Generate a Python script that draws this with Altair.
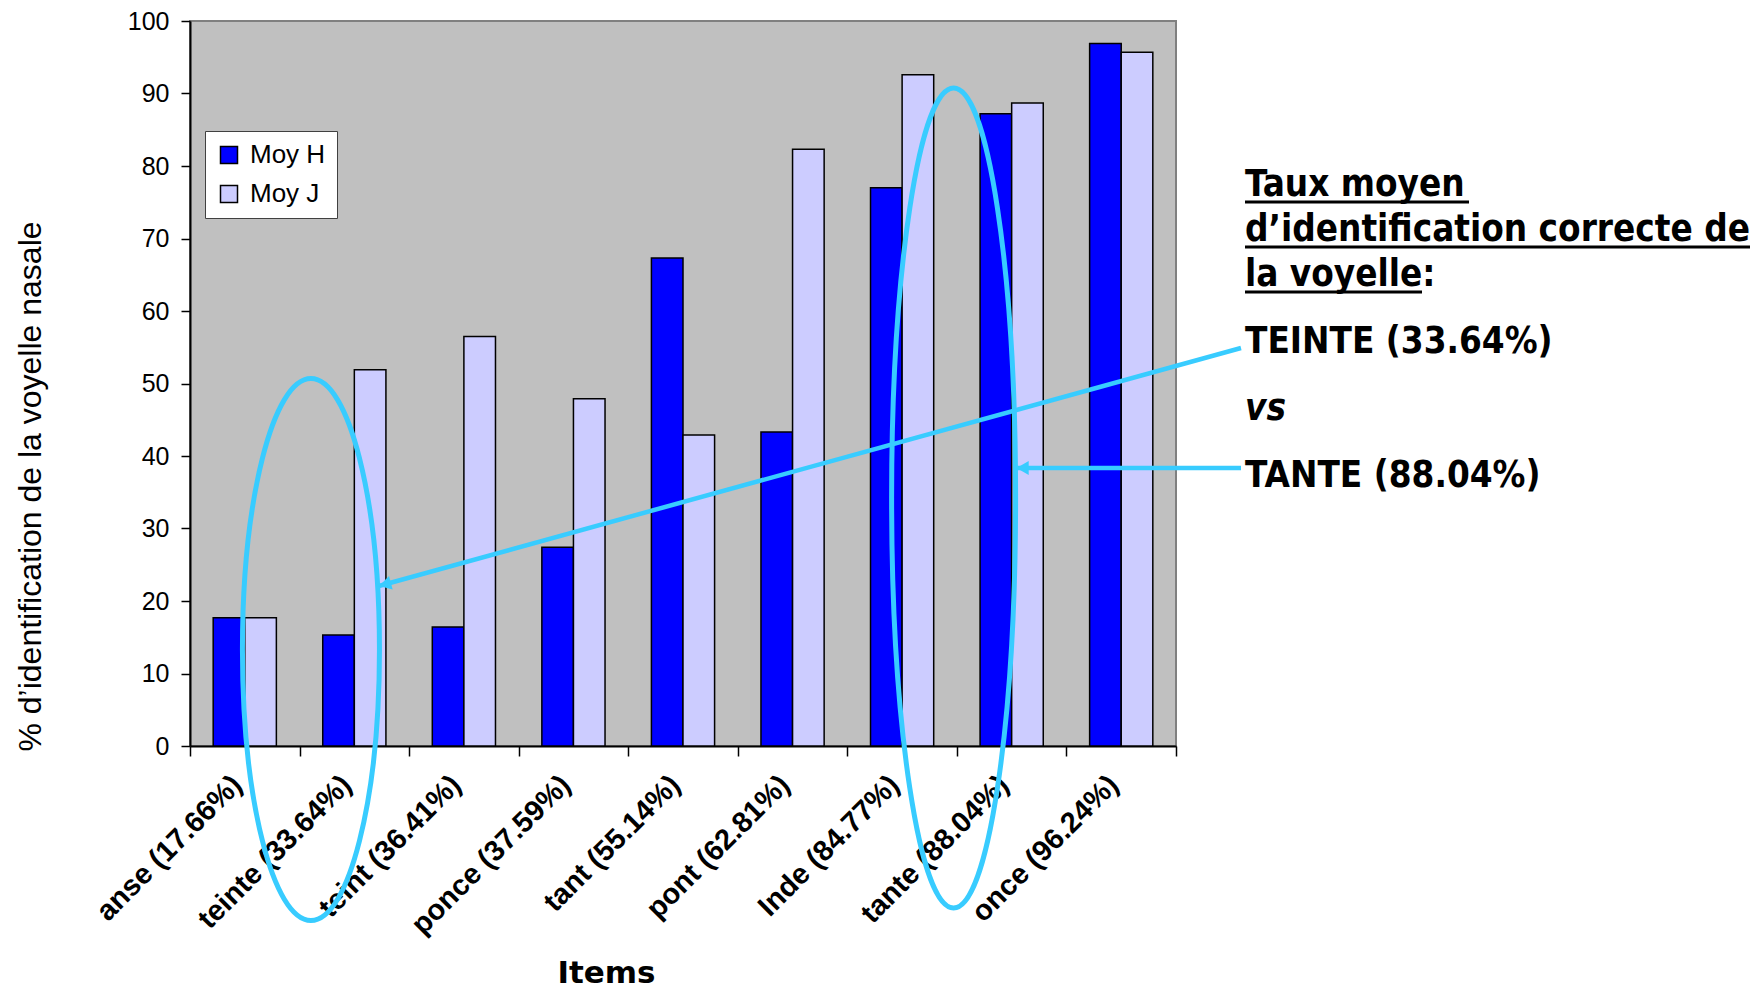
import altair as alt
import pandas as pd

# ---- data ----
items = ["anse (17.66%)", "teinte (33.64%)", "teint (36.41%)", "ponce (37.59%)",
         "tant (55.14%)", "pont (62.81%)", "Inde (84.77%)", "tante (88.04%)",
         "once (96.24%)"]
moy_h = [17.7, 15.3, 16.4, 27.4, 67.3, 43.3, 77.0, 87.2, 96.9]
moy_j = [17.7, 51.9, 56.5, 47.9, 42.9, 82.3, 92.6, 88.7, 95.7]
series = ["Moy H", "Moy J"]
series_colors = ["#0000FF", "#CCCCFF"]
y_ticks = list(range(0, 101, 10))

note_lines = ["Taux moyen", "d\u2019identification correcte de", "la voyelle:",
              "TEINTE (33.64%)", "vs", "TANTE (88.04%)"]

rows = []
for i, it in enumerate(items):
    rows.append({"item": it, "series": series[0], "value": moy_h[i]})
    rows.append({"item": it, "series": series[1], "value": moy_j[i]})
df = pd.DataFrame(rows)

W, H = 986, 725
CYAN = "#38CCFF"
ARIAL = "Liberation Sans"
TAHOMA = "DejaVu Sans Condensed, DejaVu Sans"

bars = alt.Chart(df).mark_bar(stroke="black", strokeWidth=1.5).encode(
    x=alt.X("item:N",
            scale=alt.Scale(domain=items, paddingInner=0, paddingOuter=0),
            axis=alt.Axis(title="Items", labelAngle=315, labelAlign="right",
                          labelBaseline="top", labelFont=ARIAL, labelFontSize=29,
                          labelFontWeight="bold", labelColor="black",
                          labelPadding=14, labelOffset=-18, labelLimit=0,
                          labelOverlap=False,
                          tickBand="extent", tickSize=10, tickColor="black",
                          tickWidth=1.5, domainColor="black", domainWidth=2,
                          titleFont="DejaVu Sans", titleFontSize=31, titleFontWeight="bold",
                          titleColor="black", titleX=416, titleY=236,
                          titleAlign="center", titleBaseline="alphabetic")),
    xOffset=alt.XOffset("series:N",
                        scale=alt.Scale(domain=series, paddingInner=0, paddingOuter=0.734)),
    y=alt.Y("value:Q", scale=alt.Scale(domain=[0, 100], nice=False),
            axis=alt.Axis(values=y_ticks, title="% d\u2019identification de la voyelle nasale",
                          labelFont=ARIAL, labelFontSize=25, labelColor="black",
                          labelPadding=12, tickSize=9, tickColor="black", tickWidth=1.5,
                          domainColor="black", domainWidth=2, grid=False,
                          titleFont=ARIAL, titleFontSize=32, titleFontWeight="normal",
                          titleColor="black", titleAngle=270, titleX=-160, titleY=465,
                          titleAlign="center", titleBaseline="middle")),
    color=alt.Color("series:N",
                    scale=alt.Scale(domain=series, range=series_colors),
                    legend=alt.Legend(title=None, orient="none", legendX=15, legendY=110,
                                      fillColor="white", strokeColor="#404040",
                                      padding=11, symbolType="square", symbolSize=289,
                                      symbolStrokeColor="black", symbolStrokeWidth=1.5,
                                      labelFont=ARIAL, labelFontSize=26, labelColor="black",
                                      rowPadding=13, labelOffset=8, symbolOpacity=1)),
)


def ellipse_path(a):
    k = 0.5523
    return (f"M 0 -1 C {k*a:.4f} -1 {a:.4f} {-k:.4f} {a:.4f} 0 "
            f"C {a:.4f} {k:.4f} {k*a:.4f} 1 0 1 "
            f"C {-k*a:.4f} 1 {-a:.4f} {k:.4f} {-a:.4f} 0 "
            f"C {-a:.4f} {-k:.4f} {-k*a:.4f} -1 0 -1 Z")


def anchor(item, value):
    return pd.DataFrame({"item": [item], "value": [value]})


ell1 = alt.Chart(anchor(items[1], 13.3)).mark_point(
    shape=ellipse_path(0.2528), filled=False, stroke=CYAN, strokeWidth=5,
    opacity=1, size=542 ** 2).encode(
    x=alt.X("item:N", bandPosition=0.104), y="value:Q")

ell2 = alt.Chart(anchor(items[6], 34.2)).mark_point(
    shape=ellipse_path(0.1512), filled=False, stroke=CYAN, strokeWidth=5,
    opacity=1, size=820 ** 2).encode(
    x=alt.X("item:N", bandPosition=0.97), y="value:Q")

arrow1 = alt.Chart(anchor(items[1], 22.07)).mark_rule(
    stroke=CYAN, strokeWidth=4.5).encode(
    x=alt.X("item:N", bandPosition=0.724), y="value:Q",
    x2=alt.value(1051), y2=alt.value(327))

head1 = alt.Chart(anchor(items[1], 22.29)).mark_point(
    shape="triangle-left", filled=True, color=CYAN, opacity=1, size=196,
    angle=345).encode(x=alt.X("item:N", bandPosition=0.78), y="value:Q")

arrow2 = alt.Chart(anchor(items[7], 38.34)).mark_rule(
    stroke=CYAN, strokeWidth=4.5).encode(
    x=alt.X("item:N", bandPosition=0.536), y="value:Q",
    x2=alt.value(1051), y2=alt.value(447))

head2 = alt.Chart(anchor(items[7], 38.34)).mark_point(
    shape="triangle-left", filled=True, color=CYAN, opacity=1, size=196).encode(
    x=alt.X("item:N", bandPosition=0.60), y="value:Q")

text_layers = []
text_x = 1055
text_y = [175, 220, 265, 332, 399, 466]
for i, line in enumerate(note_lines):
    style = "italic" if line == "vs" else "normal"
    t = alt.Chart(pd.DataFrame({"t": [line]})).mark_text(
        align="left", baseline="alphabetic", font=TAHOMA, fontSize=36.5,
        fontWeight="bold", fontStyle=style, color="black").encode(
        x=alt.value(text_x), y=alt.value(text_y[i]), text="t:N")
    text_layers.append(t)

underline_len = [224, 505, 177]
for i, ln in enumerate(underline_len):
    u = alt.Chart(pd.DataFrame({"t": [note_lines[i]]})).mark_rule(
        color="black", strokeWidth=3).encode(
        x=alt.value(text_x), x2=alt.value(text_x + ln), y=alt.value(text_y[i] + 6))
    text_layers.append(u)

chart = alt.layer(bars, ell1, ell2, arrow1, head1, arrow2, head2, *text_layers).properties(
    width=W, height=H,
    autosize=alt.AutoSizeParams(type="none"),
    padding={"left": 182, "top": 13, "right": 576, "bottom": 242},
).configure_view(fill="#C0C0C0", stroke="#808080", strokeWidth=2)

chart.save("out.html", embed_options={"renderer": "svg", "actions": False})
